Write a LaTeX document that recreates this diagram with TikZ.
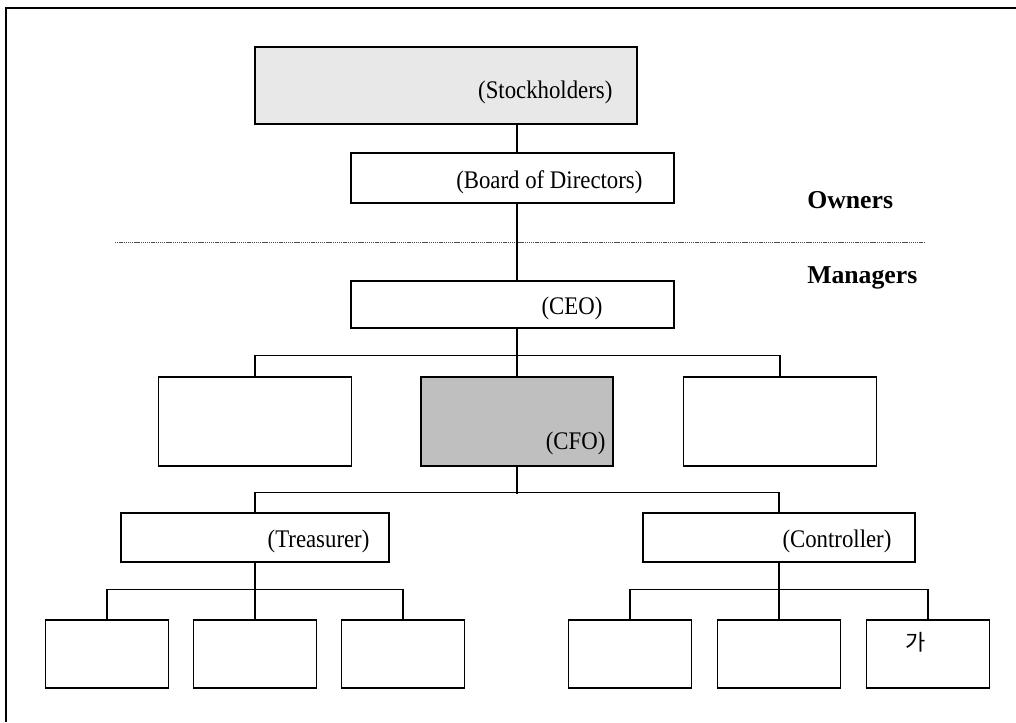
\documentclass[tikz,border=0pt]{standalone}
\usepackage{fontspec}
\setmainfont{Liberation Serif}
\newfontfamily\boxfont{Liberation Serif}[FakeStretch=0.9]
\newfontfamily\krfont{Noto Sans CJK KR}
\newcommand\un{0.75pt}
\tikzset{
  orgbox/.style={draw, line width=1pt, inner sep=0pt},
  boxtext/.style={anchor=east, inner sep=0pt, font=\boxfont\fontsize{19}{22}\selectfont},
  sidetext/.style={anchor=base west, inner sep=0pt, font=\fontsize{19.3}{22}\selectfont\bfseries},
  link/.style={line width=0.9pt},
}

\begin{document}
\begin{tikzpicture}[x=0.75pt,y=-0.75pt]
        \useasboundingbox (0,0) rectangle (1016,722);
        \draw[line width=1.2pt] (6,722) -- (6,8) -- (1016,8);

        \node[orgbox, fill=black!9, minimum width=382*\un, minimum height=77*\un,
              label={[boxtext, xshift=-25*\un, yshift=-7*\un]east:(Stockholders)}] (stock) at (446,85.5) {};
        \node[orgbox, minimum width=323*\un, minimum height=50*\un,
              label={[boxtext, xshift=-32*\un, yshift=-4*\un]east:(Board of Directors)}] (board) at (512.5,178) {};
        \node[orgbox, minimum width=323*\un, minimum height=47*\un,
              label={[boxtext, xshift=-72*\un, yshift=-4*\un]east:(CEO)}] (ceo) at (512.5,304.5) {};

        \node[orgbox, minimum width=193*\un, minimum height=89*\un] (lft) at (255,421.5) {};
        \node[orgbox, fill=black!25, minimum width=192*\un, minimum height=89*\un,
              label={[boxtext, anchor=base east, xshift=-8*\un, yshift=17*\un]south east:(CFO)}] (cfo) at (517,421.5) {};
        \node[orgbox, minimum width=193*\un, minimum height=89*\un] (rgt) at (780,421.5) {};

        \node[orgbox, minimum width=268*\un, minimum height=49*\un,
              label={[boxtext, xshift=-20*\un, yshift=-4*\un]east:(Treasurer)}] (tre) at (255,537.5) {};
        \node[orgbox, minimum width=272*\un, minimum height=49*\un,
              label={[boxtext, xshift=-24*\un, yshift=-4*\un]east:(Controller)}] (ctl) at (779,537.5) {};

        \node[orgbox, minimum width=123*\un, minimum height=68*\un] (t1) at (107,654) {};
        \node[orgbox, minimum width=123*\un, minimum height=68*\un] (t2) at (255,654) {};
        \node[orgbox, minimum width=123*\un, minimum height=68*\un] (t3) at (403,654) {};
        \node[orgbox, minimum width=123*\un, minimum height=68*\un] (c1) at (630,654) {};
        \node[orgbox, minimum width=123*\un, minimum height=68*\un] (c2) at (779,654) {};
        \node[orgbox, minimum width=123*\un, minimum height=68*\un,
              label={[anchor=center, inner sep=0pt, xshift=-12*\un, yshift=-23*\un, font=\krfont\fontsize{16.5}{18}\selectfont]north:가}] (c3) at (928,654) {};

        \node[sidetext] (own) at (807,208) {Owners};
        \node[sidetext] (mgr) at (807,283) {Managers};
        \draw[black!70, line width=0.7pt, dash pattern=on 1pt off 0.6pt] (115,242) -- (925,242);

        \draw[link] (stock.south -| cfo) -- (board.north -| cfo);
        \draw[link] (board.south -| cfo) -- (ceo.north -| cfo);
        \draw[link] (ceo.south -| cfo) -- (cfo.north);
        \draw[link] (lft.north) -- ++(0,-21) -| (rgt.north);
        \draw[link] (cfo.south) -- ++(0,27);
        \draw[link] (tre.north) -- ++(0,-20) -| (ctl.north);
        \draw[link] (tre.south) -- (t2.north);
        \draw[link] (t1.north) -- ++(0,-30) -| (t3.north);
        \draw[link] (ctl.south) -- (c2.north);
        \draw[link] (c1.north) -- ++(0,-30) -| (c3.north);

    \end{tikzpicture}
\end{document}
